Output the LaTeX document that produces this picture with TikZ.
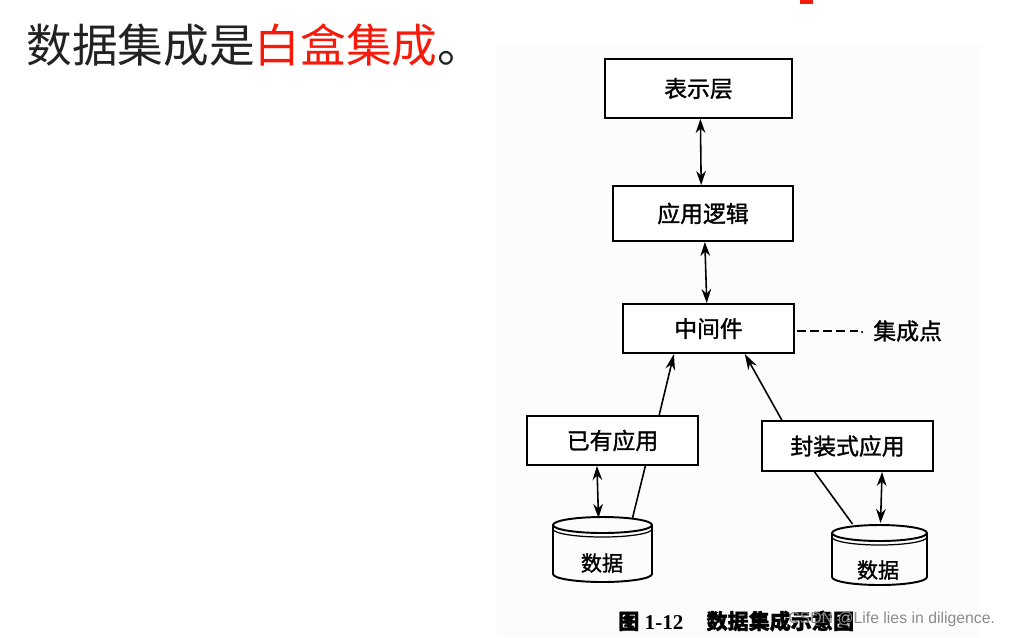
\documentclass[tikz,border=0pt]{standalone}
\usepackage{fontspec}
\setmainfont{Liberation Serif}
\newfontfamily\cjk{Noto Sans CJK SC}
\newfontfamily\cjkb[FakeBold=1.3]{Noto Sans CJK SC}
\newfontfamily\wmfont{Liberation Sans}
\usetikzlibrary{arrows.meta,calc}
\definecolor{titlegray}{HTML}{222222}
\definecolor{titlered}{HTML}{F51A0A}
\definecolor{scan}{HTML}{FCFCFC}
\tikzset{
  layer/.style={draw=black, line width=1.1pt, fill=white, inner sep=0pt, font=\cjkb\fontsize{13}{15}\selectfont},
  link/.style={line width=0.9pt, draw=black},
  uni/.style={link, -{Stealth[length=9pt,width=5.5pt]}},
  bi/.style={link, {Stealth[length=8pt,width=5.5pt]}-{Stealth[length=8pt,width=5.5pt]}},
  cyl/.style={line width=1.1pt, draw=black},
  lbl/.style={font=\cjkb\fontsize{12}{14}\selectfont, inner sep=0pt},
}
\begin{document}
\begin{tikzpicture}[x=0.02cm, y=-0.02cm]
\useasboundingbox (0,0) rectangle (1017,637);
\fill[white] (0,0) rectangle (1017,637);
\fill[scan] (497,45) rectangle (982,637);
\fill[titlered] (800,0) rectangle (813,4);

% title
\node[anchor=west, inner sep=0pt, font=\cjk\fontsize{26}{30}\selectfont] (title) at (26,45)
  {\textcolor{titlegray}{数据集成是}\textcolor{titlered}{白盒集成}\textcolor{titlegray}{。}};

% layers
\node[layer, minimum width=3.74cm, minimum height=1.18cm] (pres) at (698.5,88.5) {表示层};
\node[layer, minimum width=3.6cm, minimum height=1.1cm] (logic) at (703,213.5) {应用逻辑};
\node[layer, minimum width=3.42cm, minimum height=0.98cm] (mid) at (708.5,328.5) {中间件};
\node[layer, minimum width=3.42cm, minimum height=0.98cm] (exist) at (612.5,440.5) {已有应用};
\node[layer, minimum width=3.42cm, minimum height=1.0cm] (wrap) at (847.5,446) {封装式应用};

% integration point
\node[anchor=west, inner sep=0pt, font=\cjkb\fontsize{13}{15}\selectfont] (ip) at (873,331) {集成点};
\coordinate (ipend) at (858,331);
\draw[link, dash pattern=on 5pt off 2.5pt] (mid.east |- ipend) ++(2,0) coordinate (ipstart) -- (ipend);
\fill (862,332) circle (0.7pt);

% databases
\draw[cyl] (553,525) -- (553,574) arc[start angle=180, end angle=360, x radius=0.99cm, y radius=0.16cm] -- (652,525);
\draw[cyl] (602.5,525) ellipse [x radius=0.99cm, y radius=0.16cm];
\draw[line width=0.7pt] (553,529) arc[start angle=180, end angle=360, x radius=0.99cm, y radius=0.16cm];
\node[lbl] (dbL) at (602,563) {数据};
\coordinate (dbLtop) at (602.5,517);

\draw[cyl] (832,533) -- (832,577) arc[start angle=180, end angle=360, x radius=0.95cm, y radius=0.16cm] -- (927,533);
\draw[cyl] (879.5,533) ellipse [x radius=0.95cm, y radius=0.16cm];
\draw[line width=0.7pt] (832,537) arc[start angle=180, end angle=360, x radius=0.95cm, y radius=0.16cm];
\node[lbl] (dbR) at (878,570) {数据};
\coordinate (dbRtop) at (879.5,525);

% connectors
\draw[bi] ($(pres.south west)!0.51!(pres.south east)$) -- ($(logic.north west)!0.49!(logic.north east)$);
\draw[bi] ($(logic.south west)!0.51!(logic.south east)$) -- ($(mid.north west)!0.49!(mid.north east)$);
\draw[uni] ($(exist.north west)!0.77!(exist.north east)$) -- ($(mid.south west)!0.30!(mid.south east)$);
\draw[uni] ($(wrap.north west)!0.12!(wrap.north east)$) -- ($(mid.south west)!0.71!(mid.south east)$);
\draw[bi] ($(exist.south west)!0.41!(exist.south east)$) -- ($(dbLtop)+(-4,1)$);
\draw[link] ($(exist.south west)!0.69!(exist.south east)$) -- ($(dbLtop)+(30,1)$);
\draw[link] ($(wrap.south west)!0.31!(wrap.south east)$) -- ($(dbRtop)+(-27,-1)$);
\draw[bi] ($(wrap.south west)!0.70!(wrap.south east)$) -- ($(dbRtop)+(1,-2)$);

% caption and watermark
\node[anchor=west, inner sep=0pt, font=\fontsize{12}{14}\selectfont\bfseries] (cap) at (618,621)
  {{\cjkb 图} 1-12\hspace{1.1em}{\cjkb 数据集成示意图}};
\node[anchor=west, inner sep=0pt, text=black!45, font=\wmfont\fontsize{9}{10}\selectfont] (wm) at (788,619)
  {CSDN @Life lies in diligence.};
\end{tikzpicture}
\end{document}
